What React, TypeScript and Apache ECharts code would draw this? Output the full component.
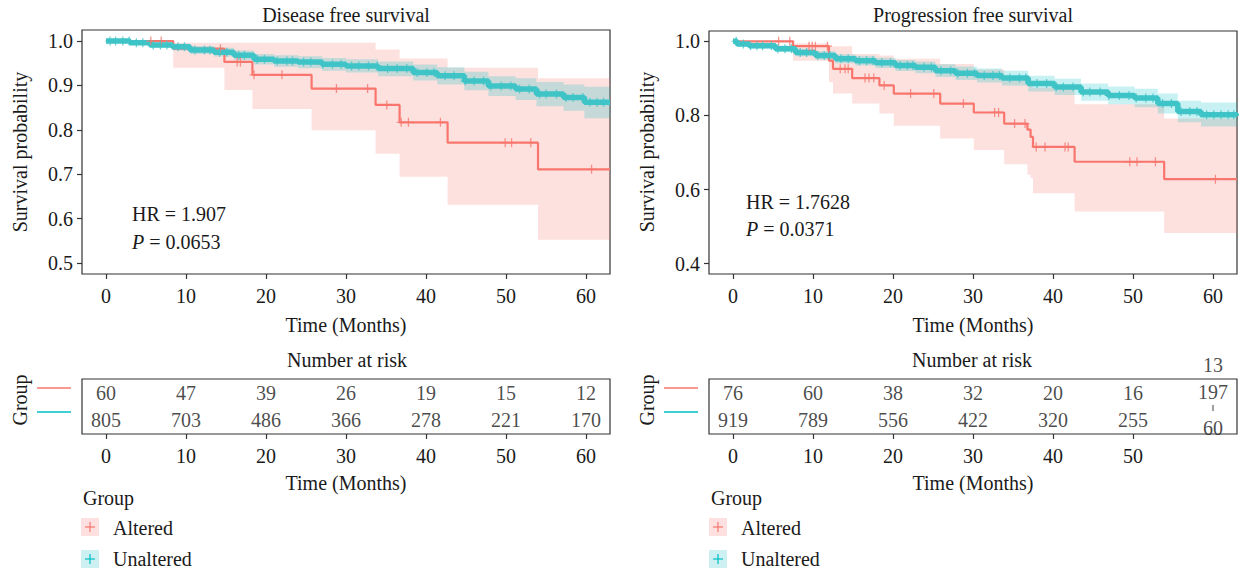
import React, { useEffect, useRef } from "react";
import * as echarts from "echarts";

const FONT = '"Liberation Serif", "Times New Roman", serif';
const FS = 20;
const RED = "#F8766D";
const TEAL = "#3FC4C7";
const RED_BAND = "rgba(248,118,109,0.22)";
const TEAL_BAND = "rgba(0,191,196,0.22)";

const timeTicks = [0, 10, 20, 30, 40, 50, 60];
const pfsTableTicks = [0, 10, 20, 30, 40, 50];
const dfsYTicks = [0.5, 0.6, 0.7, 0.8, 0.9, 1.0];
const pfsYTicks = [0.4, 0.6, 0.8, 1.0];

// ---------- Disease free survival ----------
const dfsAltTime = [0, 8.4, 14.8, 18.3, 25.7, 33.7, 36.7, 42.7, 54.0, 63.0];
const dfsAltSurv = [1.0, 0.983, 0.953, 0.924, 0.893, 0.856, 0.817, 0.771, 0.711, 0.711];
const dfsAltUpper = [1.0, 0.996, 0.996, 0.996, 0.996, 0.981, 0.961, 0.94, 0.916, 0.916];
const dfsAltLower = [1.0, 0.94, 0.89, 0.847, 0.799, 0.746, 0.694, 0.631, 0.552, 0.552];
const dfsAltCensor = [5.6, 6.9, 14.3, 16.4, 16.8, 18.5, 22.0, 28.8, 32.7, 35.1, 36.9, 37.8, 41.8, 49.9, 50.7, 53.1, 60.7];

const dfsUnaltTime = [0, 3, 5.5, 8.3, 10.5, 13.5, 16, 18.5, 21, 24, 27, 30, 34, 38.4, 41.4, 44.8, 47.8, 51.2, 53.8, 57.2, 59.8, 63];
const dfsUnaltSurv = [1.0, 0.996, 0.991, 0.987, 0.98, 0.975, 0.968, 0.959, 0.955, 0.953, 0.948, 0.944, 0.938, 0.929, 0.922, 0.91, 0.899, 0.892, 0.881, 0.873, 0.862, 0.862];
const dfsUnaltUpper = [1.0, 1.0, 0.997, 0.994, 0.989, 0.985, 0.979, 0.971, 0.968, 0.966, 0.962, 0.959, 0.954, 0.947, 0.941, 0.931, 0.921, 0.916, 0.908, 0.902, 0.897, 0.897];
const dfsUnaltLower = [1.0, 0.992, 0.985, 0.979, 0.971, 0.965, 0.957, 0.947, 0.942, 0.939, 0.933, 0.929, 0.921, 0.911, 0.902, 0.889, 0.876, 0.867, 0.853, 0.843, 0.826, 0.826];
const dfsUnaltCensor = [0.5, 1.2, 2.1, 2.9, 3.8, 4.6, 5.9, 6.8, 7.6, 9.0, 9.8, 11.1, 12.3, 13.0, 14.2, 15.1, 16.6, 17.3, 18.9, 19.8, 21.4, 22.6, 23.3, 24.7, 25.6, 27.1, 28.3, 29.4, 30.7, 31.6, 32.8, 33.9, 35.2, 36.4, 37.6, 38.9, 40.1, 41.0, 42.4, 43.5, 44.9, 46.0, 47.2, 48.1, 49.4, 50.6, 51.7, 52.9, 54.2, 55.0, 56.3, 57.5, 58.4, 59.6, 60.5, 61.4, 62.2];

const dfsRiskAlt = [60, 47, 39, 26, 19, 15, 12];
const dfsRiskUnalt = [805, 703, 486, 366, 278, 221, 170];

// ---------- Progression free survival ----------
const pfsAltTime = [0, 7.5, 12.0, 12.5, 14.9, 18.3, 20.1, 25.9, 30.1, 33.9, 36.8, 37.2, 37.5, 42.7, 53.9, 63.0];
const pfsAltSurv = [1.0, 0.987, 0.948, 0.926, 0.901, 0.881, 0.859, 0.832, 0.808, 0.778, 0.762, 0.742, 0.715, 0.675, 0.628, 0.628];
const pfsAltUpper = [1.0, 0.995, 0.987, 0.987, 0.966, 0.962, 0.953, 0.939, 0.924, 0.905, 0.895, 0.885, 0.875, 0.83, 0.792, 0.792];
const pfsAltLower = [1.0, 0.948, 0.89, 0.859, 0.832, 0.805, 0.772, 0.738, 0.707, 0.668, 0.64, 0.631, 0.59, 0.541, 0.483, 0.483];
const pfsAltCensor = [5.7, 7.1, 9.5, 9.9, 10.3, 11.8, 13.4, 14.0, 14.4, 16.5, 17.0, 17.6, 18.9, 22.2, 25.1, 28.8, 32.7, 33.2, 35.2, 36.5, 37.9, 39.0, 41.5, 41.9, 49.6, 50.5, 52.8, 60.3];

const pfsUnaltTime = [0, 0.5, 2, 5.3, 7.8, 10.3, 12.8, 15.3, 17.8, 20.3, 22.8, 25.3, 27.8, 30.5, 33.6, 36.9, 40.2, 43.5, 46.9, 50.2, 53.1, 55.6, 58.5, 63];
const pfsUnaltSurv = [1.0, 0.993, 0.988, 0.98, 0.97, 0.962, 0.953, 0.948, 0.942, 0.935, 0.93, 0.921, 0.914, 0.908, 0.901, 0.886, 0.877, 0.863, 0.854, 0.847, 0.832, 0.811, 0.802, 0.799];
const pfsUnaltUpper = [1.0, 0.998, 0.995, 0.989, 0.98, 0.973, 0.965, 0.961, 0.956, 0.95, 0.946, 0.938, 0.932, 0.927, 0.921, 0.907, 0.899, 0.886, 0.878, 0.872, 0.859, 0.84, 0.835, 0.835];
const pfsUnaltLower = [1.0, 0.988, 0.981, 0.971, 0.96, 0.951, 0.941, 0.935, 0.928, 0.92, 0.914, 0.904, 0.896, 0.889, 0.881, 0.865, 0.855, 0.84, 0.83, 0.822, 0.805, 0.782, 0.77, 0.757];
const pfsUnaltCensor = [0.4, 1.3, 2.2, 3.0, 3.7, 4.8, 5.6, 6.5, 7.3, 8.4, 9.2, 10.6, 11.4, 12.1, 13.5, 14.4, 15.8, 16.7, 17.5, 18.6, 19.7, 20.9, 21.8, 22.5, 23.9, 24.8, 26.0, 27.2, 28.1, 29.3, 30.2, 31.4, 32.5, 33.3, 34.6, 35.8, 36.6, 38.0, 39.2, 40.4, 41.3, 42.5, 43.8, 44.6, 45.9, 47.0, 48.3, 49.5, 50.4, 51.6, 52.5, 53.7, 54.8, 56.0, 57.1, 58.0, 59.2, 60.1, 61.0, 61.9, 62.6];

const pfsRiskAlt = [76, 60, 38, 32, 20, 16];
const pfsRiskUnalt = [919, 789, 556, 422, 320, 255];
const pfsRiskOddText = ["13", "197", "60"];
const pfsRiskOddRow = [2.5, 1.53, 0.22];

const PLUS = "path://M4.3,0h1.4v4.3h4.3v1.4h-4.3v4.3h-1.4v-4.3h-4.3v-1.4h4.3z";

function survAt(times: number[], surv: number[], t: number) {
  let s = surv[0];
  for (let i = 0; i < times.length; i++) if (times[i] <= t) s = surv[i];
  return s;
}

function bandSeries(times: number[], lo: number[], hi: number[], color: string, axis: number) {
  return {
    type: "custom",
    xAxisIndex: axis,
    yAxisIndex: axis,
    clip: true,
    silent: true,
    data: [[times[0], lo[0]]],
    z: 1,
    renderItem: (_params: any, api: any) => {
      const pts: number[][] = [];
      for (let i = 0; i < times.length - 1; i++) {
        pts.push(api.coord([times[i], hi[i]]));
        pts.push(api.coord([times[i + 1], hi[i]]));
      }
      for (let i = times.length - 2; i >= 0; i--) {
        pts.push(api.coord([times[i + 1], lo[i]]));
        pts.push(api.coord([times[i], lo[i]]));
      }
      return { type: "polygon", shape: { points: pts }, style: { fill: color } };
    },
  };
}

function kmLine(times: number[], surv: number[], color: string, width: number, axis: number) {
  return {
    type: "line",
    xAxisIndex: axis,
    yAxisIndex: axis,
    step: "end",
    showSymbol: false,
    symbol: "none",
    z: 3,
    lineStyle: { color, width },
    data: times.map((t, i) => [t, surv[i]]),
  };
}

function censorSeries(cens: number[], times: number[], surv: number[], color: string, size: number, axis: number) {
  return {
    type: "scatter",
    xAxisIndex: axis,
    yAxisIndex: axis,
    symbol: PLUS,
    symbolSize: size,
    z: 4,
    itemStyle: { color },
    data: cens.map((t) => [t, survAt(times, surv, t)]),
  };
}

function riskSeries(ticks: number[], vals: (number | string)[], rows: number[] | number, axis: number) {
  return {
    type: "scatter",
    xAxisIndex: axis,
    yAxisIndex: axis,
    symbolSize: 1,
    clip: false,
    itemStyle: { color: "rgba(0,0,0,0)" },
    label: {
      show: true,
      position: "inside",
      formatter: (p: any) => String(p.value[2]),
      fontFamily: FONT,
      fontSize: FS,
      color: "#1a1a1a",
    },
    data: ticks.map((t, i) => [t, Array.isArray(rows) ? rows[i] : rows, vals[i]]),
  };
}

const axisText = { fontFamily: FONT, fontSize: FS, color: "#1a1a1a" };

function xAxis(grid: number, ticks: number[]) {
  return {
    type: "value",
    gridIndex: grid,
    min: -3,
    max: 63,
    axisLine: { show: false, onZero: false },
    splitLine: { show: false },
    axisTick: { show: true, inside: false, length: 5, customValues: ticks, lineStyle: { color: "#333", width: 1.2 } },
    axisLabel: { show: true, customValues: ticks, margin: 12, ...axisText },
  };
}

function yAxisPlot(grid: number, min: number, max: number, ticks: number[]) {
  return {
    type: "value",
    gridIndex: grid,
    min,
    max,
    axisLine: { show: false, onZero: false },
    splitLine: { show: false },
    axisTick: { show: true, inside: false, length: 5, customValues: ticks, lineStyle: { color: "#333", width: 1.2 } },
    axisLabel: { show: true, customValues: ticks, margin: 9, formatter: (v: number) => v.toFixed(1), ...axisText },
  };
}

function yAxisTable(grid: number) {
  return {
    type: "value",
    gridIndex: grid,
    min: 0,
    max: 2,
    axisLine: { show: false, onZero: false },
    splitLine: { show: false },
    axisTick: { show: false },
    axisLabel: { show: false },
  };
}

function txt(text: string, x: number, y: number, align = "center", extra: any = {}) {
  return {
    type: "text",
    x,
    y,
    silent: true,
    ...extra,
    style: {
      text,
      fontFamily: FONT,
      fontSize: FS,
      fill: "#1a1a1a",
      align,
      textAlign: align,
      verticalAlign: "middle",
      textVerticalAlign: "middle",
      ...(extra.style || {}),
    },
  };
}

function hrText(hr: string, p: string, x: number, y1: number, y2: number) {
  return [
    txt(hr, x, y1, "left"),
    {
      type: "text",
      x,
      y: y2,
      silent: true,
      style: {
        text: "{i|P} = " + p,
        fontFamily: FONT,
        fontSize: FS,
        fill: "#1a1a1a",
        align: "left",
        textAlign: "left",
        verticalAlign: "middle",
        textVerticalAlign: "middle",
        rich: { i: { fontStyle: "italic", fontFamily: FONT, fontSize: FS, fill: "#1a1a1a" } },
      },
    },
  ];
}

function legendBlock(dx: number) {
  const plus = (cx: number, cy: number, color: string) => [
    { type: "line", shape: { x1: cx - 5, y1: cy, x2: cx + 5, y2: cy }, style: { stroke: color, lineWidth: 1.2 } },
    { type: "line", shape: { x1: cx, y1: cy - 5, x2: cx, y2: cy + 5 }, style: { stroke: color, lineWidth: 1.2 } },
  ];
  return [
    txt("Group", 83 + dx, 498, "left"),
    { type: "rect", shape: { x: 81 + dx, y: 518, width: 18, height: 18 }, style: { fill: "#fde0df" } },
    ...plus(90 + dx, 527, RED),
    txt("Altered", 113 + dx, 528, "left"),
    { type: "rect", shape: { x: 81 + dx, y: 550, width: 18, height: 18 }, style: { fill: "#cdf1f2" } },
    ...plus(90 + dx, 559, "#00BFC4"),
    txt("Unaltered", 113 + dx, 559, "left"),
  ];
}

function tableSide(dx: number) {
  return [
    txt("Group", 20 + dx, 400, "center", { rotation: Math.PI / 2 }),
    { type: "line", shape: { x1: 37 + dx, y1: 388, x2: 71 + dx, y2: 388 }, style: { stroke: RED, lineWidth: 1.3 } },
    { type: "line", shape: { x1: 37 + dx, y1: 412, x2: 71 + dx, y2: 412 }, style: { stroke: "#00BFC4", lineWidth: 1.3 } },
  ];
}

export default function App() {
  const ref = useRef<HTMLDivElement>(null);
  useEffect(() => {
    if (!ref.current) return;
    const chart = echarts.init(ref.current, undefined, { renderer: "svg" });
    const gridBase = { show: true, borderColor: "#333", borderWidth: 1.2, backgroundColor: "transparent", containLabel: false };
    const option: any = {
      animation: false,
      backgroundColor: "#ffffff",
      grid: [
        { ...gridBase, left: 82, top: 30, width: 528, height: 244 },
        { ...gridBase, left: 709, top: 31, width: 528, height: 243 },
        { ...gridBase, left: 82, top: 379, width: 528, height: 55 },
        { ...gridBase, left: 709, top: 379, width: 528, height: 55 },
      ],
      xAxis: [xAxis(0, timeTicks), xAxis(1, timeTicks), xAxis(2, timeTicks), xAxis(3, pfsTableTicks)],
      yAxis: [
        yAxisPlot(0, 0.475, 1.025, dfsYTicks),
        yAxisPlot(1, 0.372, 1.028, pfsYTicks),
        yAxisTable(2),
        yAxisTable(3),
      ],
      series: [
        bandSeries(dfsAltTime, dfsAltLower, dfsAltUpper, RED_BAND, 0),
        bandSeries(dfsUnaltTime, dfsUnaltLower, dfsUnaltUpper, TEAL_BAND, 0),
        kmLine(dfsAltTime, dfsAltSurv, RED, 2.2, 0),
        kmLine(dfsUnaltTime, dfsUnaltSurv, TEAL, 5.5, 0),
        censorSeries(dfsAltCensor, dfsAltTime, dfsAltSurv, RED, 9, 0),
        censorSeries(dfsUnaltCensor, dfsUnaltTime, dfsUnaltSurv, TEAL, 9, 0),

        bandSeries(pfsAltTime, pfsAltLower, pfsAltUpper, RED_BAND, 1),
        bandSeries(pfsUnaltTime, pfsUnaltLower, pfsUnaltUpper, TEAL_BAND, 1),
        kmLine(pfsAltTime, pfsAltSurv, RED, 2.2, 1),
        kmLine(pfsUnaltTime, pfsUnaltSurv, TEAL, 5.5, 1),
        censorSeries(pfsAltCensor, pfsAltTime, pfsAltSurv, RED, 9, 1),
        censorSeries(pfsUnaltCensor, pfsUnaltTime, pfsUnaltSurv, TEAL, 9, 1),

        riskSeries(timeTicks, dfsRiskAlt, 1.5, 2),
        riskSeries(timeTicks, dfsRiskUnalt, 0.5, 2),
        riskSeries(pfsTableTicks, pfsRiskAlt, 1.5, 3),
        riskSeries(pfsTableTicks, pfsRiskUnalt, 0.5, 3),
        riskSeries([60, 60, 60], pfsRiskOddText, pfsRiskOddRow, 3),
        {
          type: "scatter",
          xAxisIndex: 3,
          yAxisIndex: 3,
          symbol: "rect",
          symbolSize: [1.2, 6],
          clip: false,
          itemStyle: { color: "#333" },
          data: [[60, 0.95]],
        },
      ],
      graphic: [
        txt("Disease free survival", 346, 15),
        txt("Progression free survival", 973, 15),
        txt("Survival probability", 20, 152, "center", { rotation: Math.PI / 2 }),
        txt("Survival probability", 647, 152, "center", { rotation: Math.PI / 2 }),
        txt("Time (Months)", 346, 325),
        txt("Time (Months)", 973, 325),
        txt("Number at risk", 347, 360),
        txt("Number at risk", 972, 360),
        txt("Time (Months)", 346, 483),
        txt("Time (Months)", 973, 483),
        ...hrText("HR = 1.907", "0.0653", 132, 214, 242),
        ...hrText("HR = 1.7628", "0.0371", 746, 202, 229),
        ...tableSide(0),
        ...tableSide(627),
        ...legendBlock(0),
        ...legendBlock(628),
      ],
    };
    chart.setOption(option);
    return () => chart.dispose();
  }, []);
  return (
    <div
      ref={ref}
      style={{ position: "fixed", left: 0, top: 0, width: 1239, height: 573, background: "#fff" }}
    />
  );
}
